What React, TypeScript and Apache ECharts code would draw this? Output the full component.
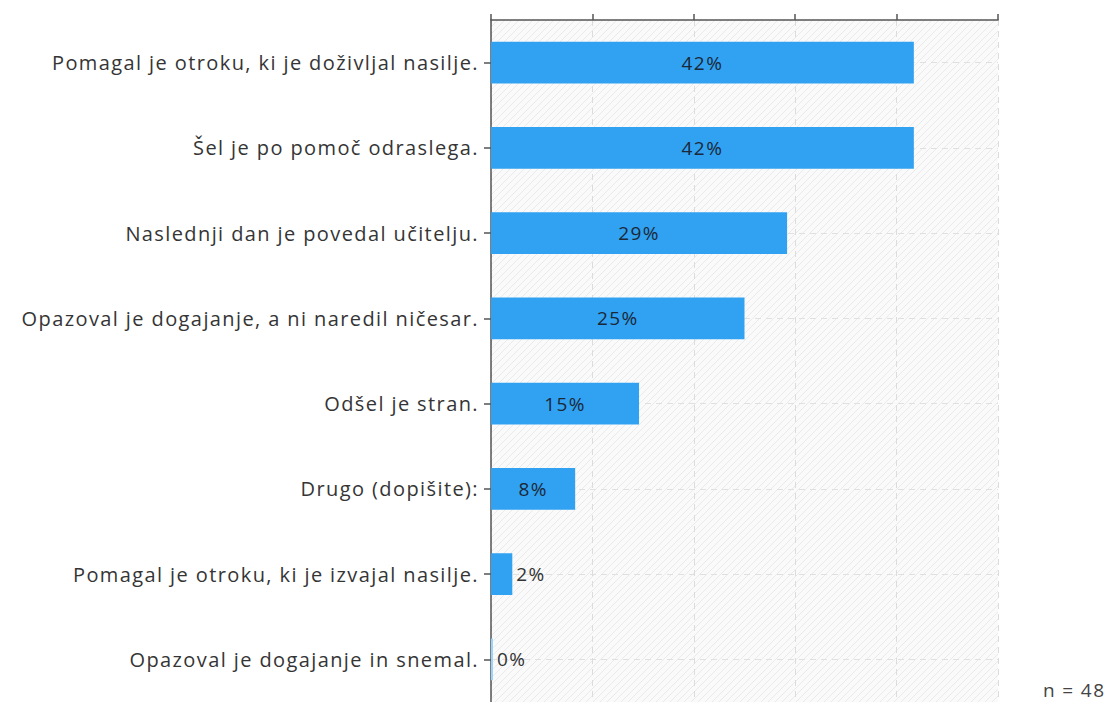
import React, { useEffect, useRef } from "react";
import * as echarts from "echarts";

const categories = [
  "Pomagal je otroku, ki je doživljal nasilje.",
  "Šel je po pomoč odraslega.",
  "Naslednji dan je povedal učitelju.",
  "Opazoval je dogajanje, a ni naredil ničesar.",
  "Odšel je stran.",
  "Drugo (dopišite):",
  "Pomagal je otroku, ki je izvajal nasilje.",
  "Opazoval je dogajanje in snemal.",
];
const values = [41.7, 41.7, 29.2, 25.0, 14.6, 8.3, 2.1, 0];
const sampleNote = "n = 48";

function makePattern(): string {
  const c = document.createElement("canvas");
  c.width = 7;
  c.height = 7;
  const ctx = c.getContext("2d")!;
  ctx.fillStyle = "#fafafa";
  ctx.fillRect(0, 0, 7, 7);
  ctx.strokeStyle = "#eaeaea";
  ctx.lineWidth = 1;
  ctx.beginPath();
  ctx.moveTo(-1, 8);
  ctx.lineTo(8, -1);
  ctx.moveTo(-1, 1);
  ctx.lineTo(1, -1);
  ctx.moveTo(6, 8);
  ctx.lineTo(8, 6);
  ctx.stroke();
  return c.toDataURL();
}

export default function App() {
  const ref = useRef<HTMLDivElement>(null);
  useEffect(() => {
    if (!ref.current) return;
    const chart = echarts.init(ref.current, undefined, { renderer: "svg" });
    const font = "'Open Sans', Lato, sans-serif";
    const rev = [...categories].reverse();
    const revVals = [...values].reverse();
    chart.setOption({
      animation: false,
      textStyle: { fontFamily: font },
      grid: {
        left: 491,
        top: 20,
        right: 119,
        bottom: 0,
        show: true,
        borderWidth: 0,
        backgroundColor: { image: makePattern(), repeat: "repeat" },
      },
      xAxis: {
        type: "value",
        position: "top",
        min: 0,
        max: 50,
        interval: 10,
        axisLine: { show: true, lineStyle: { color: "#555", width: 1.5 } },
        axisTick: { show: true, length: 6, lineStyle: { color: "#555", width: 1.5 } },
        axisLabel: { show: false },
        splitLine: { show: true, lineStyle: { color: "#dcdcdc", type: [6, 5], width: 1 } },
      },
      yAxis: {
        type: "category",
        data: rev,
        axisLine: { show: true, lineStyle: { color: "#555", width: 1.5 } },
        axisTick: { show: true, alignWithLabel: true, length: 7, lineStyle: { color: "#555", width: 1.5 } },
        axisLabel: { color: "#353535", fontSize: 20, margin: 12, fontFamily: font },
        splitLine: {
          show: true,
          alignWithLabel: true,
          lineStyle: { color: "#e0e0e0", type: [6, 5], width: 1 },
        },
      },
      series: [
        {
          type: "bar",
          barWidth: "49%",
          barMinHeight: 2,
          data: revVals.map((v) => ({
            value: v,
            itemStyle: { color: v === 0 ? "#9bd3fb" : "#31a2f2" },
            label:
              v < 5
                ? { show: true, position: "right", color: "#333", distance: 4 }
                : { show: true, position: "inside", color: "#1b2838" },
          })),
          label: {
            show: true,
            fontSize: 19,
            fontFamily: font,
            formatter: (p: any) => Math.round(p.value) + "%",
          },
        },
      ],
      graphic: [
        {
          type: "text",
          right: 20,
          bottom: 3,
          style: { text: sampleNote, fontSize: 19, fill: "#444", fontFamily: font },
        },
      ],
    });
    return () => chart.dispose();
  }, []);
  return (
    <>
      <style>{"#chartbox text{letter-spacing:1.4px}"}</style>
      <div
        id="chartbox"
        ref={ref}
        style={{ position: "fixed", left: 0, top: 0, width: 1117, height: 702, background: "#fff" }}
      />
    </>
  );
}
